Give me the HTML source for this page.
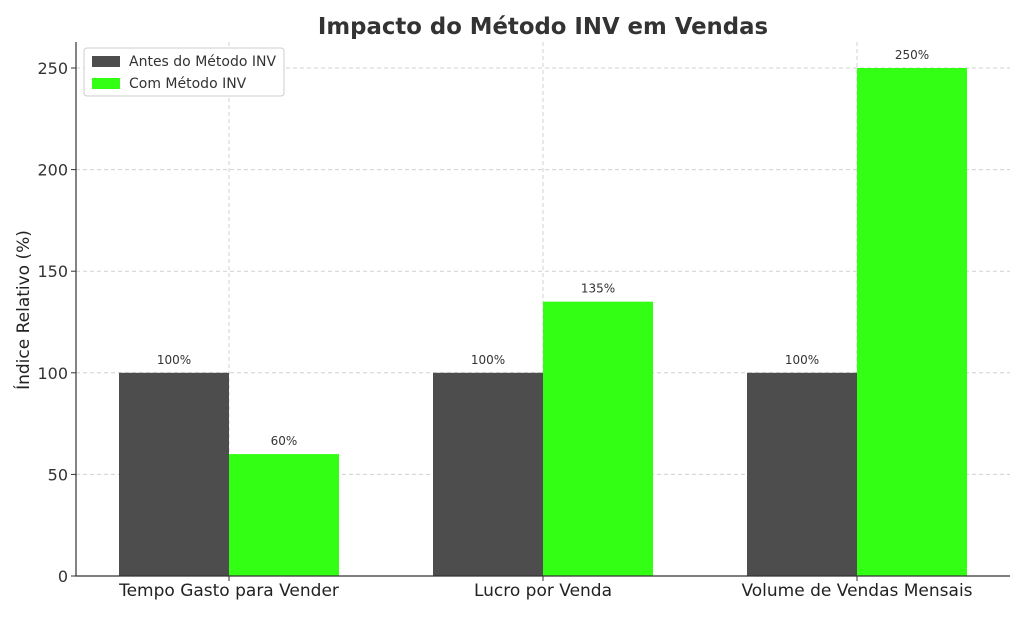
<!DOCTYPE html>
<html><head><meta charset="utf-8"><style>
body{margin:0;background:#fff;}
svg{font-family:"DejaVu Sans","Liberation Sans",sans-serif;}
</style></head><body>
<svg id="chart" width="1024" height="614"></svg>
<script>
const categories=["Tempo Gasto para Vender","Lucro por Venda","Volume de Vendas Mensais"];
const antes=[100,100,100];
const com=[60,135,250];
const yTicks=[0,50,100,150,200,250];
const seriesNames=["Antes do Método INV","Com Método INV"];
const colors=["#4d4d4d","#33ff14"];
const svg=document.getElementById('chart');
const NS="http://www.w3.org/2000/svg";
const L=76,R=1010,T=42,B=576;
const y=v=>B-(v/250)*(576-68);
const xc=i=>229+314*i;
const bw=110;
function mk(tag,attrs,parent){const e=document.createElementNS(NS,tag);for(const k in attrs)e.setAttribute(k,attrs[k]);(parent||svg).appendChild(e);return e;}
yTicks.forEach(t=>{
 const g=mk('line',{x1:L,x2:R,y1:y(t),y2:y(t),stroke:'#d0d0d0','stroke-dasharray':'4,3','stroke-width':1});
 
 const tk=mk('line',{x1:L-5,x2:L,y1:y(t),y2:y(t),stroke:'#333'});
 
 const lb=mk('text',{x:L-8,y:y(t)+6,'text-anchor':'end','font-size':16,fill:'#333'});lb.textContent=t;
 
});
categories.forEach((c,i)=>{
 const g=mk('line',{x1:xc(i),x2:xc(i),y1:T,y2:B,stroke:'#d0d0d0','stroke-dasharray':'4,3'});
 
});
[antes,com].forEach((s,si)=>{
 s.forEach((v,i)=>{
  const x0=si===0?xc(i)-bw:xc(i);
  const r=mk('rect',{x:x0,y:y(v),width:bw,height:B-y(v),fill:colors[si]});
  
  const t=mk('text',{x:x0+bw/2,y:y(v)-9,'text-anchor':'middle','font-size':12,fill:'#333'});t.textContent=v+'%';
  
 });
});
categories.forEach((c,i)=>{
 const tk=mk('line',{x1:xc(i),x2:xc(i),y1:B,y2:B+5,stroke:'#333'});
 
 const t=mk('text',{x:xc(i),y:B+20,'text-anchor':'middle','font-size':17,fill:'#222'});t.textContent=c;
 
});
const ax=mk('path',{d:`M${L},${T}V${B}H${R}`,fill:'none',stroke:'#333','stroke-width':1.2});

const yt=mk('text',{x:29,y:310,'text-anchor':'middle','font-size':17,fill:'#222',transform:'rotate(-90 29 310)'});yt.textContent='Índice Relativo (%)';

const ti=mk('text',{x:543,y:34,'text-anchor':'middle','font-size':22.8,'font-weight':'bold',fill:'#333'});ti.textContent='Impacto do Método INV em Vendas';

const lg=mk('g',{});

mk('rect',{x:84,y:48,width:200,height:48,fill:'#fff',stroke:'#ccc',rx:3},lg);
seriesNames.forEach((n,i)=>{
 const sw=mk('rect',{x:92,y:56+i*22,width:28,height:11,fill:colors[i]},lg);
 
 const t=mk('text',{x:129,y:66+i*22,'font-size':14,fill:'#333'},lg);t.textContent=n;
 
});
</script>
</body></html>
